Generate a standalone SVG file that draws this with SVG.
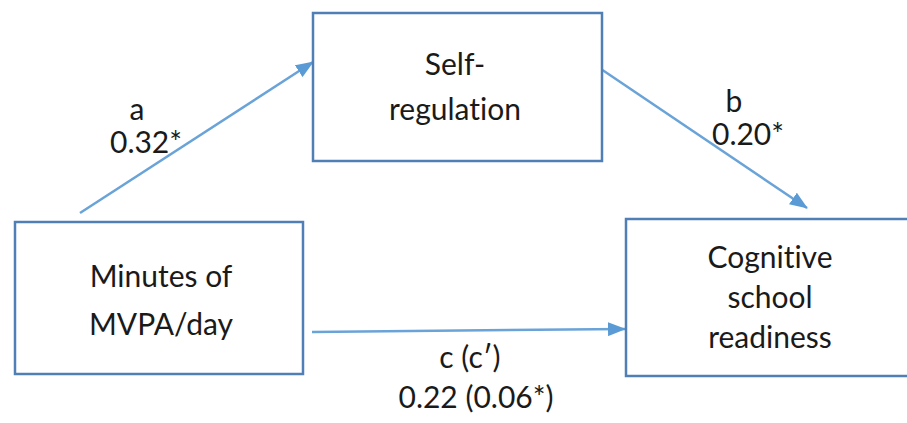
<svg xmlns="http://www.w3.org/2000/svg" width="907" height="423" viewBox="0 0 907 423">
  <style>
    .box { fill: #ffffff; stroke: #4f7fb5; stroke-width: 2.5; }
    .lbl { font-family: Lato, "Open Sans", "Liberation Sans", sans-serif; font-size: 30px; fill: #1a1a1a; text-anchor: middle; font-variant-ligatures: none; }
    .conn { stroke: #6aa3d8; stroke-width: 2.5; fill: none; }
  </style>
  <defs>
    <marker id="arr" markerUnits="userSpaceOnUse" markerWidth="18" markerHeight="14" refX="17" refY="7" orient="auto">
      <path d="M0,0 L18,7 L0,14 Z" fill="#5b9bd5"/>
    </marker>
  </defs>
  <rect width="907" height="423" fill="#ffffff"/>
  <g id="connectors">
    <line class="conn" x1="80" y1="213" x2="313" y2="62" marker-end="url(#arr)"/>
    <line class="conn" x1="598" y1="67" x2="807" y2="208" marker-end="url(#arr)"/>
    <line class="conn" x1="312" y1="332" x2="625" y2="329" marker-end="url(#arr)"/>
    <text class="lbl" x="137" y="120">a</text>
    <text class="lbl" x="146" y="153">0.32*</text>
    <text class="lbl" x="734" y="112">b</text>
    <text class="lbl" x="748" y="145">0.20*</text>
    <text class="lbl" x="470" y="368">c (c′)</text>
    <text class="lbl" x="476" y="408">0.22 (0.06*)</text>
  </g>
  <g id="node-mvpa">
    <rect class="box" x="15" y="222" width="288" height="152"/>
    <text class="lbl" x="161" y="287">Minutes of</text>
    <text class="lbl" x="161" y="335">MVPA/day</text>
  </g>
  <g id="node-self">
    <rect class="box" x="313" y="13" width="289" height="148"/>
    <text class="lbl" x="455" y="75">Self-</text>
    <text class="lbl" x="455" y="120">regulation</text>
  </g>
  <g id="node-cognitive">
    <rect class="box" x="626" y="219" width="300" height="157"/>
    <text class="lbl" x="770" y="268">Cognitive</text>
    <text class="lbl" x="770" y="308">school</text>
    <text class="lbl" x="770" y="348">readiness</text>
  </g>
</svg>
